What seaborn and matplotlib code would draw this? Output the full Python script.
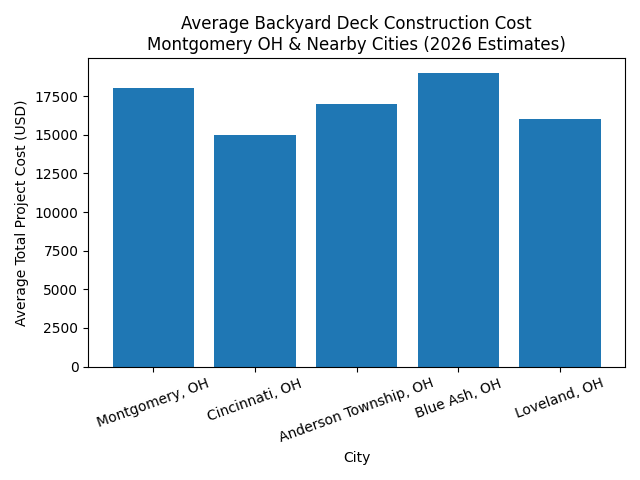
import matplotlib
matplotlib.use("Agg")
import matplotlib.pyplot as plt
import pandas as pd
import seaborn as sns

cities = ["Montgomery, OH", "Cincinnati, OH", "Anderson Township, OH", "Blue Ash, OH", "Loveland, OH"]
costs = [18000, 15000, 17000, 19000, 16000]

df = pd.DataFrame({"City": cities, "Cost": costs})

fig, ax = plt.subplots(figsize=(6.4, 4.8), dpi=100)
sns.barplot(data=df, x="City", y="Cost", color="#1f77b4", saturation=1, width=0.8, ax=ax)
ax.set_xlim(-0.64, len(cities) - 0.36)
ax.set_xlabel("City")
ax.set_ylabel("Average Total Project Cost (USD)")
ax.set_title("Average Backyard Deck Construction Cost\nMontgomery OH & Nearby Cities (2026 Estimates)")
plt.xticks(rotation=20)
plt.tight_layout()
plt.savefig("out.png")
